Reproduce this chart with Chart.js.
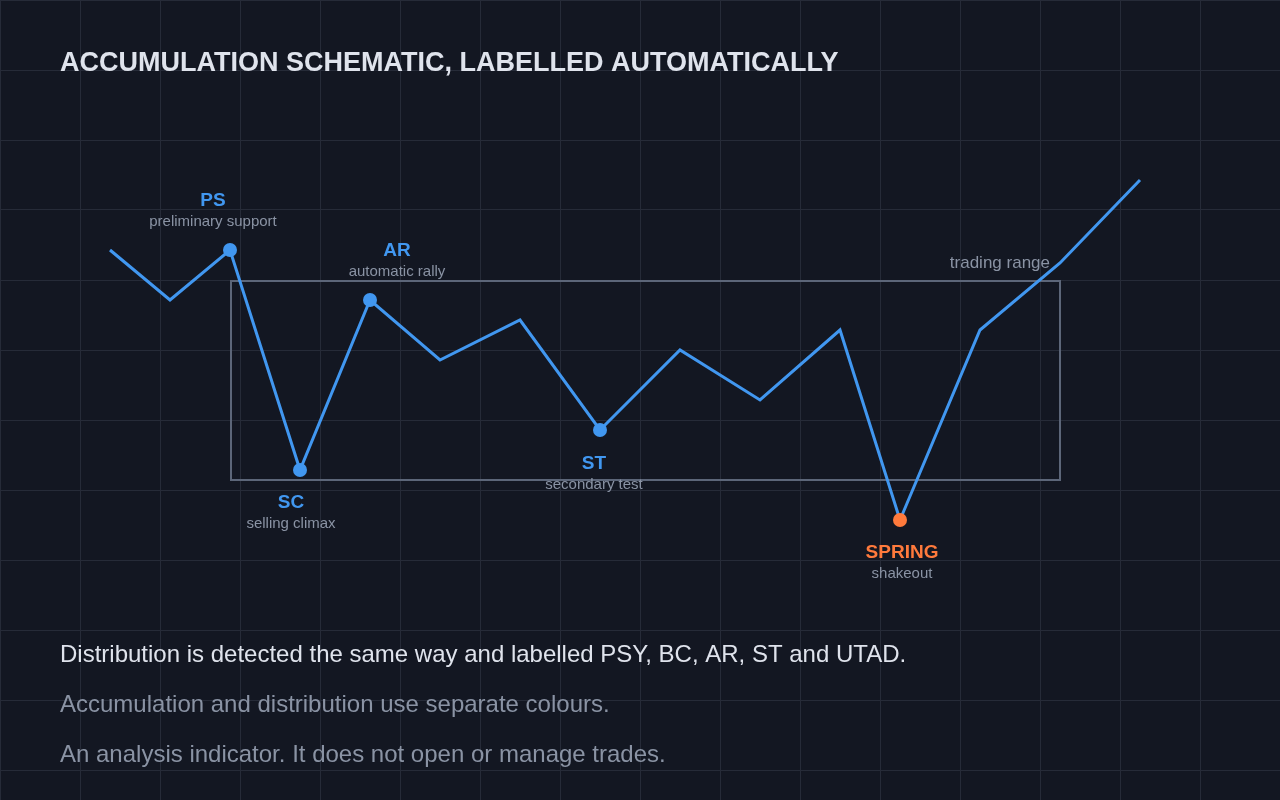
<!DOCTYPE html>
<html>
<head>
<meta charset="utf-8">
<script src="https://cdn.jsdelivr.net/npm/chart.js@4/dist/chart.umd.min.js"></script>
<style>
  html, body { margin: 0; padding: 0; background: #131722; }
  #wrap { width: 1280px; height: 800px; position: relative; }
</style>
</head>
<body>
<div id="wrap"><canvas id="schematic"></canvas></div>
<script>
// price path of the schematic (x = bar, y = price)
const bars = [11, 17, 23, 30, 37, 44, 52, 60, 68, 76, 84, 90, 98, 106, 114];
const prices = [55, 50, 55, 33, 50, 44, 48, 37, 45, 40, 47, 28, 47, 53.7, 62];

// labelled phases
const phaseIndex = [2, 3, 4, 7, 11];
const phaseNames = ["PS", "SC", "AR", "ST", "SPRING"];
const phaseNotes = ["preliminary support", "selling climax", "automatic rally", "secondary test", "shakeout"];

// trading range box
const rangeBars = [23, 106];
const rangePrices = [32, 52];

const titleText = "ACCUMULATION SCHEMATIC, LABELLED AUTOMATICALLY";
const footerLines = [
    "Distribution is detected the same way and labelled PSY, BC, AR, ST and UTAD.",
    "Accumulation and distribution use separate colours.",
    "An analysis indicator. It does not open or manage trades."
];

const BLUE = "#4197f0";
const ORANGE = "#ff7a3c";
const MUTED = "#8a93a4";
const FONT = "'Liberation Sans', Arial, Helvetica, sans-serif";

// label placement relative to its marker (px, baselines)
const labelOffsets = [
    { dx: -17, dy: -44 },
    { dx: -9, dy: 38 },
    { dx: 27, dy: -44 },
    { dx: -6, dy: 39 },
    { dx: 2, dy: 38 }
];

const points = bars.map((b, i) => ({ x: b, y: prices[i] }));
const radii = bars.map((_, i) => phaseIndex.includes(i) ? 7 : 0);
const colours = bars.map((_, i) => i === 11 ? ORANGE : BLUE);

// trading range rectangle, under the line
const rangePlugin = {
    id: "rangeBox",
    beforeDatasetsDraw(chart) {
        const { ctx, scales: { x, y } } = chart;
        const left = x.getPixelForValue(rangeBars[0]);
        const right = x.getPixelForValue(rangeBars[1]);
        const top = y.getPixelForValue(rangePrices[1]);
        const bottom = y.getPixelForValue(rangePrices[0]);
        ctx.save();
        ctx.strokeStyle = "#5c6679";
        ctx.lineWidth = 2;
        ctx.strokeRect(left + 1, top + 1, right - left - 1, bottom - top - 1);
        ctx.fillStyle = MUTED;
        ctx.font = "17px " + FONT;
        ctx.textAlign = "right";
        ctx.textBaseline = "alphabetic";
        ctx.fillText("trading range", right - 10, top - 12);
        ctx.restore();
    }
};

// phase labels, title and footer text
const textPlugin = {
    id: "schematicText",
    afterDraw(chart) {
        const { ctx, scales: { x, y } } = chart;
        ctx.save();
        ctx.textBaseline = "alphabetic";
        ctx.textAlign = "center";
        phaseIndex.forEach((idx, k) => {
            const px = x.getPixelForValue(bars[idx]) + labelOffsets[k].dx;
            const py = y.getPixelForValue(prices[idx]) + labelOffsets[k].dy;
            ctx.fillStyle = idx === 11 ? ORANGE : BLUE;
            ctx.font = "bold 19px " + FONT;
            ctx.fillText(phaseNames[k], px, py);
            ctx.fillStyle = MUTED;
            ctx.font = "15px " + FONT;
            ctx.fillText(phaseNotes[k], px, py + 20);
        });

        ctx.textAlign = "left";
        ctx.fillStyle = "#dfe3ec";
        ctx.font = "bold 27px " + FONT;
        ctx.fillText(titleText, 60, 71);

        ctx.font = "24px " + FONT;
        footerLines.forEach((line, i) => {
            ctx.fillStyle = i === 0 ? "#dfe3ec" : MUTED;
            ctx.fillText(line, 60, 662 + i * 50);
        });
        ctx.restore();
    }
};

new Chart(document.getElementById("schematic"), {
    type: "scatter",
    data: {
        datasets: [{
            data: points,
            showLine: true,
            borderColor: BLUE,
            borderWidth: 3,
            tension: 0,
            pointRadius: radii,
            pointHoverRadius: radii,
            pointBackgroundColor: colours,
            pointBorderWidth: 0
        }]
    },
    options: {
        responsive: true,
        maintainAspectRatio: false,
        animation: false,
        layout: { padding: 0 },
        plugins: {
            legend: { display: false },
            tooltip: { enabled: false }
        },
        scales: {
            x: {
                type: "linear",
                min: 0,
                max: 128,
                ticks: { display: false, stepSize: 8 },
                grid: { color: "#262b38", lineWidth: 1, drawTicks: false },
                border: { display: false }
            },
            y: {
                type: "linear",
                min: 0,
                max: 80,
                afterBuildTicks(scale) {
                    const t = [];
                    for (let v = 80; v >= 0; v -= 7) t.push({ value: v });
                    scale.ticks = t;
                },
                ticks: { display: false },
                grid: { color: "#262b38", lineWidth: 1, drawTicks: false },
                border: { display: false }
            }
        }
    },
    plugins: [rangePlugin, textPlugin]
});
</script>
</body>
</html>
